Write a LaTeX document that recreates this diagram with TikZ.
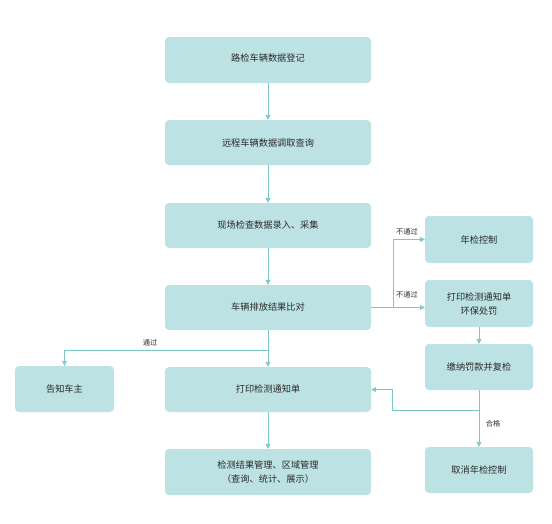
\documentclass[tikz,border=0pt]{standalone}
\usepackage{fontspec}
\setmainfont{Noto Sans CJK SC}
\usetikzlibrary{arrows.meta}
\definecolor{boxfill}{HTML}{BCE2E4}
\definecolor{linec}{HTML}{7CC8C8}
\definecolor{txt}{HTML}{2A2A2A}
\tikzset{
  box/.style={draw=none, fill=boxfill, rounded corners=4pt, inner sep=0pt, align=center, font=\fontsize{9.2pt}{14pt}\selectfont, text=txt},
  conn/.style={draw=linec, line width=0.9pt, -{Triangle[length=5pt,width=5pt]}},
  lbl/.style={font=\fontsize{7.2pt}{9pt}\selectfont, text=txt, inner sep=1pt}
}
\begin{document}
\begin{tikzpicture}[x=1pt,y=-1pt]
\useasboundingbox (0,0) rectangle (552,523);
% main column
\node[box, minimum width=206pt, minimum height=46pt] (b1) at (268,60) {\raisebox{5pt}{路检车辆数据登记}};
\node[box, minimum width=206pt, minimum height=45pt] (b2) at (268,142.5) {远程车辆数据调取查询};
\node[box, minimum width=206pt, minimum height=45pt] (b3) at (268,225.5) {\raisebox{1.5pt}{现场检查数据录入、采集}};
\node[box, minimum width=206pt, minimum height=45pt] (b4) at (268,307.5) {\raisebox{1.5pt}{车辆排放结果比对}};
\node[box, minimum width=206pt, minimum height=45pt] (b5) at (268,389.5) {\raisebox{1.5pt}{打印检测通知单}};
\node[box, minimum width=206pt, minimum height=46pt] (b6) at (268,472) {检测结果管理、区域管理\\（查询、统计、展示）};
% left
\node[box, minimum width=99pt, minimum height=46pt] (l1) at (64.5,389) {\raisebox{1.5pt}{告知车主}};
% right column
\node[box, minimum width=108pt, minimum height=47pt] (r1) at (479,239.5) {年检控制};
\node[box, minimum width=108pt, minimum height=47pt] (r2) at (479,303.5) {打印检测通知单\\环保处罚};
\node[box, minimum width=108pt, minimum height=46pt] (r3) at (479,367) {缴纳罚款并复检};
\node[box, minimum width=108pt, minimum height=46pt] (r4) at (479,470) {取消年检控制};
% coordinates
\coordinate (s1) at (268,350);
\coordinate (s2) at (393,307.5);
\coordinate (s3) at (479,410);
\coordinate (s4) at (392,410);
% connectors
\draw[conn] (b1) -- (b2);
\draw[conn] (b2) -- (b3);
\draw[conn] (b3) -- (b4);
\draw[conn] (b4) -- (b5);
\draw[conn] (b5) -- (b6);
\draw[conn] (s1) -| (l1.north);
\node[lbl] (t1) at (150,343) {通过};
\draw[conn] (b4.east) -- (r2.west |- b4.east);
\draw[conn] (s2) |- (r1.west);
\node[lbl] (t2) at (407,232) {不通过};
\node[lbl] (t3) at (407,295) {不通过};
\draw[conn] (r2) -- (r3);
\draw[conn] (r3) -- (r4);
\draw[conn] (s3) -- (s4) |- (b5.east);
\node[lbl] (t4) at (493,424) {合格};
\end{tikzpicture}
\end{document}
